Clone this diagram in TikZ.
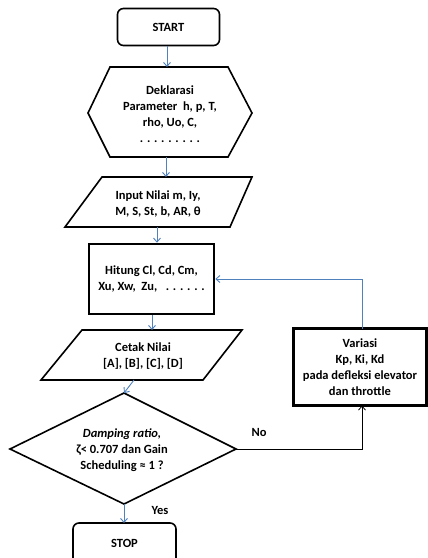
\documentclass[tikz,border=0pt]{standalone}
\usepackage{fontspec}
\setmainfont{Carlito}
\usetikzlibrary{arrows.meta}
\definecolor{arrowblue}{RGB}{79,129,189}
\begin{document}
\begin{tikzpicture}[x=1pt,y=-1pt,
  shapeline/.style={draw=black,line width=1.6pt,line join=miter},
  thickbox/.style={draw=black,line width=2.6pt},
  txt/.style={font=\bfseries\fontsize{12.5}{15.8}\selectfont,align=center,inner sep=0pt},
  flow/.style={draw=arrowblue,line width=0.9pt,-{Straight Barb[length=4pt,width=7pt]}},
  noflow/.style={draw=black,line width=0.8pt,-{Straight Barb[length=4pt,width=7pt]}},
  lbl/.style={font=\bfseries\fontsize{12.5}{14}\selectfont,inner sep=0pt}
]
\useasboundingbox (0,0) rectangle (428,558);
\fill[white] (0,0) rectangle (428,558);

% START
\node[shapeline,rounded corners=6pt,minimum width=102pt,minimum height=37pt,txt] (start) at (168.5,27) {START};

% Declaration hexagon
\draw[shapeline] (88,113) -- (110,67) -- (228,67) -- (252,113) -- (228,157) -- (110,157) -- cycle;
\coordinate (hexTop) at (167,67);
\coordinate (hexBot) at (166,157);
\node[txt] (dekl) at (170,114) {Deklarasi\\Parameter\ \ h, p, T,\\rho, Uo, C,\\. . . . . . . . .};

% Input parallelogram
\draw[shapeline] (102,177) -- (252,177) -- (230,227) -- (65,227) -- cycle;
\coordinate (inTop) at (166,177);
\coordinate (inBot) at (157,227);
\node[txt] (input) at (158,204) {Input Nilai m, Iy,\\M, S, St, b, AR, θ};

% Hitung box
\node[thickbox,minimum width=125pt,minimum height=70pt,txt] (hitung) at (151.5,279) {Hitung Cl, Cd, Cm,\\Xu, Xw,\ \ Zu,\ \ \ . . . . . .};

% Cetak parallelogram
\draw[shapeline] (82,330) -- (242,330) -- (203,380) -- (41,380) -- cycle;
\coordinate (ctTop) at (152,330);
\coordinate (ctBot) at (134,380);
\node[txt] (cetak) at (143,356) {Cetak Nilai\\{[A], [B], [C], [D]}};

% Decision diamond
\draw[shapeline] (124,393) coordinate (dTop) -- (236,449) coordinate (dRight) -- (124,504) coordinate (dBot) -- (10,449) coordinate (dLeft) -- cycle;
\node[txt] (dec) at (122,450) {\textit{Damping ratio,}\\ζ< 0.707 dan Gain\\Scheduling ≈ 1 ?};

% STOP
\draw[shapeline,rounded corners=6pt] (73,523) -- (176,523) -- (176,575) -- (73,575) -- cycle;
\node[txt] (stop) at (124.5,543) {STOP};
\coordinate (stopTop) at (124,523);

% Variasi box
\node[thickbox,minimum width=133pt,minimum height=77pt,txt] (variasi) at (360,367) {Variasi\\Kp, Ki, Kd\\pada defleksi elevator\\dan throttle};
\coordinate (varTop) at (362,328.5);
\coordinate (varBot) at (362,405.5);
\coordinate (fbCorner) at (362,279);
\coordinate (noCorner) at (362,449);

% Connectors
\draw[flow] (start.south -| hexTop) -- (hexTop);
\draw[flow] (hexBot) -- (inTop);
\draw[flow] (inBot) -- (inBot |- hitung.north);
\draw[flow] (ctTop |- hitung.south) -- (ctTop);
\draw[flow] (ctBot) -- (dTop);
\draw[flow] (dBot) -- (stopTop);
\draw[noflow] (dRight) -- (noCorner) -- (varBot);
\draw[flow] (varTop) -- (fbCorner) -- (hitung.east);

% Labels
\node[lbl] (yes) at (160,510) {Yes};
\node[lbl] (no) at (259,432) {No};
\end{tikzpicture}
\end{document}
